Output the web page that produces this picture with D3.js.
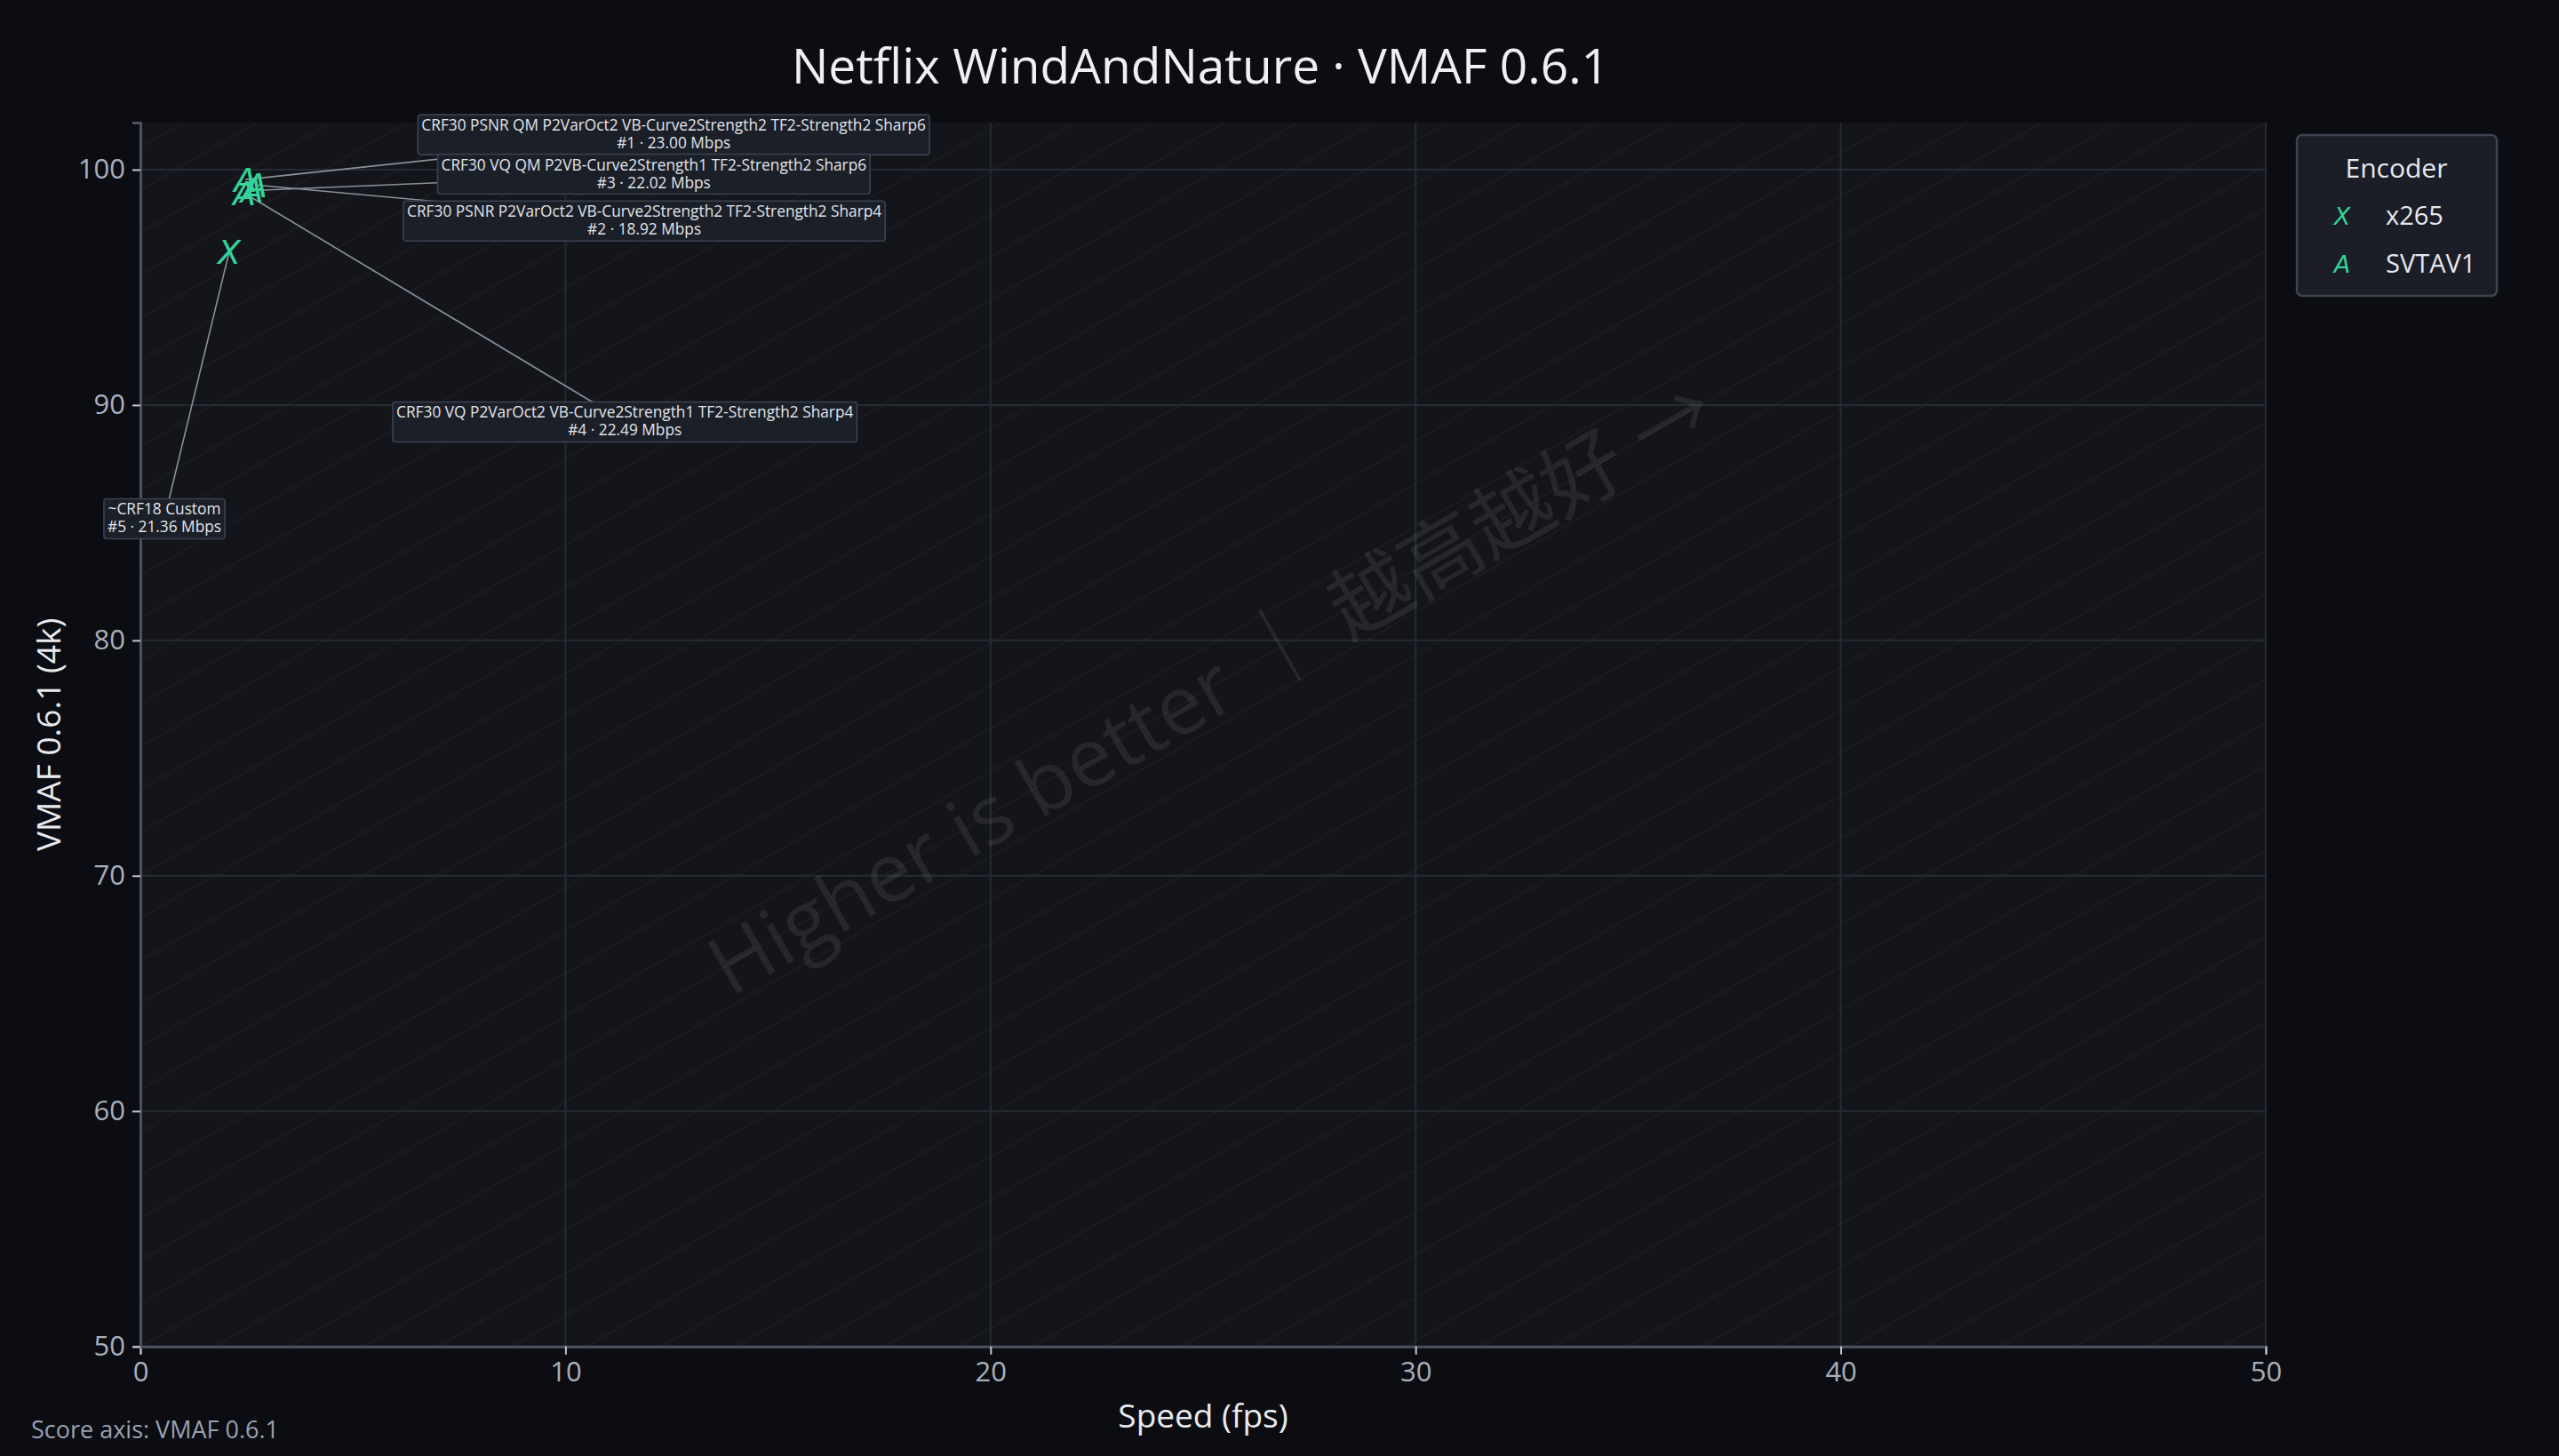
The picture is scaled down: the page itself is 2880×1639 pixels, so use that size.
<!DOCTYPE html>
<html>
<head>
<meta charset="utf-8">
<script src="https://cdn.jsdelivr.net/npm/d3@7"></script>
<style>
  html, body { margin: 0; padding: 0; background: #0b0d12; }
  svg { display: block; }
  text { font-family: "Open Sans", "Noto Sans", sans-serif; }
</style>
</head>
<body>
<script>
// ---------------- data ----------------
const encoders = ["x265", "SVTAV1"];
const encoderGlyphs = ["X", "A"];
const runRanks = [1, 2, 3, 4, 5];
const runEncoders = ["SVTAV1", "SVTAV1", "SVTAV1", "SVTAV1", "x265"];
const runNames = [
  "CRF30 PSNR QM P2VarOct2 VB-Curve2Strength2 TF2-Strength2 Sharp6",
  "CRF30 PSNR P2VarOct2 VB-Curve2Strength2 TF2-Strength2 Sharp4",
  "CRF30 VQ QM P2VB-Curve2Strength1 TF2-Strength2 Sharp6",
  "CRF30 VQ P2VarOct2 VB-Curve2Strength1 TF2-Strength2 Sharp4",
  "~CRF18 Custom"
];
const runBitrates = [23.00, 18.92, 22.02, 22.49, 21.36];   // Mbps
const runSpeeds = [2.47, 2.72, 2.63, 2.45, 2.09];          // fps
const runScores = [99.58, 99.35, 99.11, 99.00, 96.51];     // VMAF 0.6.1
const xTicks = [0, 10, 20, 30, 40, 50];
const yTicks = [50, 60, 70, 80, 90, 100];

// label placement (pixel offsets from the point, layout only)
const labelDx = [482, 437, 452, 428, -73];
const labelDy = [-51, 40, -19, 257, 300];

// ---------------- layout ----------------
const W = 2880, H = 1639;
const M = { left: 158, right: 2550, top: 138, bottom: 1515.7 };
const green = "#34d399";

const svg = d3.select("body").append("svg").attr("width", W).attr("height", H);
svg.append("rect").attr("width", W).attr("height", H).attr("fill", "#0b0d12");

const x = d3.scaleLinear().domain([0, 50]).range([M.left, M.right]);
const y = d3.scaleLinear().domain([50, 102]).range([M.bottom, M.top]);
const pw = M.right - M.left, ph = M.bottom - M.top;

// plot background
svg.append("rect").attr("x", M.left).attr("y", M.top).attr("width", pw).attr("height", ph)
  .attr("fill", "#13151b");

svg.append("clipPath").attr("id", "clip").append("rect")
  .attr("x", M.left).attr("y", M.top).attr("width", pw).attr("height", ph);

// diagonal hatch (axes-fraction space)
const hatch = svg.append("g").attr("clip-path", "url(#clip)");
const ks = d3.range(-29, 30);
hatch.selectAll("line").data(ks).join("line")
  .attr("x1", k => M.left + k * 0.035 * pw)
  .attr("y1", M.bottom)
  .attr("x2", k => M.left + (k * 0.035 + 1) * pw)
  .attr("y2", M.top)
  .attr("stroke", "rgba(255,255,255,0.03)")
  .attr("stroke-width", 2);

// grid
const grid = svg.append("g");
grid.selectAll(".gx").data(xTicks).join("line")
  .attr("x1", d => x(d)).attr("x2", d => x(d))
  .attr("y1", M.top).attr("y2", M.bottom)
  .attr("stroke", "#262a33").attr("stroke-width", 2);
grid.selectAll(".gy").data(yTicks).join("line").attr("class", "gy")
  .attr("x1", M.left).attr("x2", M.right)
  .attr("y1", d => y(d)).attr("y2", d => y(d))
  .attr("stroke", "#262a33").attr("stroke-width", 2);

// watermark
const cx = (M.left + M.right) / 2, cy = (M.top + M.bottom) / 2;
const ang = -Math.atan(ph / pw) * 180 / Math.PI;
svg.append("text")
  .attr("transform", `translate(${cx + 8},${cy - 56}) rotate(${ang})`)
  .attr("text-anchor", "middle")
  .attr("dominant-baseline", "central")
  .attr("font-size", 92)
  .attr("fill", "rgba(255,255,255,0.08)")
  .style("font-family", "'Open Sans', 'Noto Sans CJK SC', sans-serif")
  .text("Higher is better ｜ 越高越好 →");

// axes
const xAxis = svg.append("g").attr("transform", `translate(0,${M.bottom})`)
  .call(d3.axisBottom(x).tickValues(xTicks).tickSize(9).tickPadding(8).tickFormat(d3.format("d")));
const yAxis = svg.append("g").attr("transform", `translate(${M.left},0)`)
  .call(d3.axisLeft(y).tickValues(yTicks).tickSize(9).tickPadding(8).tickFormat(d3.format("d")));
[xAxis, yAxis].forEach(a => {
  a.select(".domain").attr("stroke", "#4a5162").attr("stroke-width", 3);
  a.selectAll(".tick line").attr("stroke", "#c3c8d0").attr("stroke-width", 2);
  a.selectAll(".tick text").attr("fill", "#a8afbb").attr("font-size", 31)
    .style("font-family", "'Open Sans', sans-serif");
});

// axis titles
svg.append("text").attr("x", cx).attr("y", 1607).attr("text-anchor", "middle")
  .attr("font-size", 37).attr("fill", "#e8eaee").text("Speed (fps)");
svg.append("text").attr("transform", `translate(68,${cy}) rotate(-90)`)
  .attr("text-anchor", "middle").attr("font-size", 37).attr("fill", "#e8eaee")
  .text("VMAF 0.6.1 (4k)");

// title
svg.append("text").attr("x", 1351).attr("y", 94).attr("text-anchor", "middle")
  .attr("font-size", 55).attr("fill", "#eef0f4").text("Netflix WindAndNature · VMAF 0.6.1");

// footer
svg.append("text").attr("x", 35).attr("y", 1619).attr("font-size", 27)
  .attr("fill", "#9aa2b0").text("Score axis: VMAF 0.6.1");

// runs
const runs = runRanks.map((r, i) => ({
  rank: r, enc: runEncoders[i], name: runNames[i], br: runBitrates[i],
  sp: runSpeeds[i], sc: runScores[i], dx: labelDx[i], dy: labelDy[i]
}));
const glyphOf = e => encoderGlyphs[encoders.indexOf(e)];

// leader lines
svg.append("g").selectAll("line").data(runs).join("line")
  .attr("x1", d => x(d.sp)).attr("y1", d => y(d.sc))
  .attr("x2", d => x(d.sp) + d.dx).attr("y2", d => y(d.sc) + d.dy)
  .attr("stroke", "#8b909a").attr("stroke-width", 1.6);

// markers
const mfs = 38;
svg.append("g").selectAll("text").data(runs).join("text")
  .attr("x", d => x(d.sp)).attr("y", d => y(d.sc) + mfs * 0.36)
  .attr("text-anchor", "middle")
  .attr("font-size", mfs).attr("font-style", "italic").attr("font-weight", 200)
  .style("font-family", "'DejaVu Sans', sans-serif")
  .attr("fill", green)
  .text(d => glyphOf(d.enc));

// label boxes
const lfs = 17.3;
const lab = svg.append("g").selectAll("g").data(runs).join("g")
  .attr("transform", d => `translate(${x(d.sp) + d.dx},${y(d.sc) + d.dy})`);
const boxes = lab.append("rect").attr("fill", "#1b1f28").attr("stroke", "#3b4250")
  .attr("stroke-width", 1.6).attr("rx", 3);
const t1 = lab.append("text").attr("text-anchor", "middle").attr("y", -4)
  .attr("font-size", lfs).attr("fill", "#e2e5ea").text(d => d.name);
const t2 = lab.append("text").attr("text-anchor", "middle").attr("y", 16)
  .attr("font-size", lfs).attr("fill", "#e2e5ea")
  .text(d => `#${d.rank} · ${d.br.toFixed(2)} Mbps`);
boxes.each(function (d, i) {
  const w = Math.max(t1.nodes()[i].getComputedTextLength(), t2.nodes()[i].getComputedTextLength()) + 8;
  d3.select(this).attr("x", -w / 2).attr("y", -22).attr("width", w).attr("height", 45);
});

// legend
const lg = svg.append("g");
lg.append("rect").attr("x", 2585).attr("y", 152).attr("width", 225).attr("height", 181)
  .attr("rx", 6).attr("fill", "#1b1e26").attr("stroke", "#3d4350").attr("stroke-width", 2.5);
lg.append("text").attr("x", 2697).attr("y", 200).attr("text-anchor", "middle")
  .attr("font-size", 30).attr("fill", "#e6e8ee").text("Encoder");
const le = lg.selectAll(".le").data(encoders).join("g")
  .attr("transform", (d, i) => `translate(0,${243 + i * 54})`);
le.append("text").attr("x", 2636).attr("y", 27 * 0.36).attr("text-anchor", "middle")
  .attr("font-size", 27).attr("font-style", "italic").attr("font-weight", 200)
  .style("font-family", "'DejaVu Sans', sans-serif").attr("fill", green)
  .text((d, i) => encoderGlyphs[i]);
le.append("text").attr("x", 2685).attr("y", 10).attr("font-size", 29)
  .attr("fill", "#e6e8ee").text(d => d);
</script>
</body>
</html>
